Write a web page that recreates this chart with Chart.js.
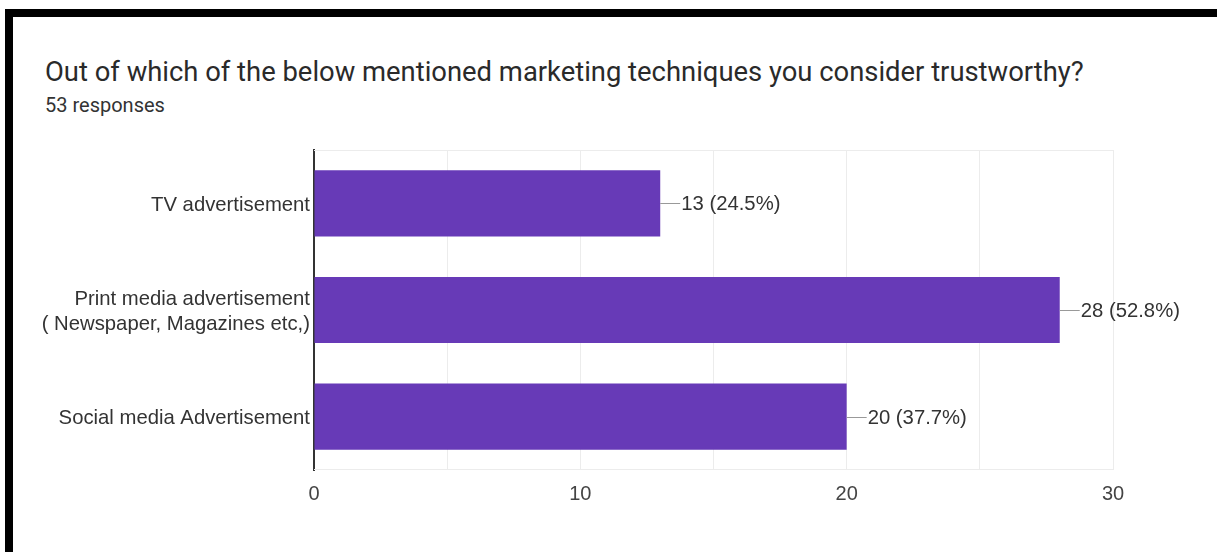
<!DOCTYPE html>
<html>
<head>
<meta charset="utf-8">
<script src="https://cdn.jsdelivr.net/npm/chart.js@4"></script>
<style>
  body { margin: 0; background: #fff; width: 1217px; height: 552px; overflow: hidden; position: relative; }
  .edge { position: absolute; background: #000; }
  #title { position: absolute; left: 45px; top: 59px; font: 27.4px Roboto, sans-serif; line-height: 27px; color: #2a2a2a; white-space: nowrap; }
  #sub { position: absolute; left: 45px; top: 95px; font: 20px Roboto, sans-serif; line-height: 20px; color: #333; white-space: nowrap; }
  #wrap { position: absolute; left: 0; top: 0; width: 1217px; height: 552px; }
</style>
</head>
<body>
<div class="edge" style="left:5px;top:9px;width:1212px;height:8px"></div>
<div class="edge" style="left:5px;top:9px;width:8px;height:543px"></div>
<div id="title">Out of which of the below mentioned marketing techniques you consider trustworthy?</div>
<div id="sub">53 responses</div>
<div id="wrap"><canvas id="chart"></canvas></div>
<script>
// survey answers
var categories = [
    'TV advertisement',
    ['Print media advertisement', '( Newspaper, Magazines etc,)'],
    'Social media Advertisement'
];
var counts = [13, 28, 20];
var percents = ['24.5%', '52.8%', '37.7%'];
var xTicks = [0, 10, 20, 30];

var labelFont = '20.3px "Liberation Sans", Arial, sans-serif';

// leader line + "n (p%)" next to each bar
var barLabels = {
    id: 'barLabels',
    afterDatasetsDraw: function (chart) {
        var ctx = chart.ctx;
        var meta = chart.getDatasetMeta(0);
        ctx.save();
        ctx.font = labelFont;
        ctx.textBaseline = 'middle';
        ctx.fillStyle = '#333';
        ctx.strokeStyle = '#999';
        ctx.lineWidth = 1;
        meta.data.forEach(function (bar, i) {
            var y = Math.round(bar.y) + 0.5;
            ctx.beginPath();
            ctx.moveTo(bar.x, y);
            ctx.lineTo(bar.x + 20, y);
            ctx.stroke();
            ctx.fillText(counts[i] + ' (' + percents[i] + ')', bar.x + 21, bar.y + 1.5);
        });
        ctx.restore();
    }
};

new Chart(document.getElementById('chart').getContext('2d'), {
    type: 'bar',
    data: {
        labels: categories,
        datasets: [{
            data: counts,
            backgroundColor: '#673ab7',
            barPercentage: 0.62,
            categoryPercentage: 1
        }]
    },
    options: {
        indexAxis: 'y',
        responsive: true,
        maintainAspectRatio: false,
        animation: false,
        layout: { padding: { top: 150, right: 104, left: 0, bottom: 0 } },
        plugins: { legend: { display: false }, tooltip: { enabled: false } },
        scales: {
            x: {
                min: 0,
                max: 30,
                ticks: {
                    stepSize: 5,
                    padding: 12,
                    color: '#444',
                    font: { family: '"Liberation Sans", Arial, sans-serif', size: 20 },
                    callback: function (v) { return xTicks.indexOf(v) >= 0 ? v : ''; }
                },
                grid: { color: '#ececec', drawTicks: false },
                border: { display: false },
                afterFit: function (s) { s.height = 82; }
            },
            y: {
                ticks: {
                    padding: 4,
                    labelOffset: 2,
                    color: '#333',
                    font: { family: '"Liberation Sans", Arial, sans-serif', size: 20.3, lineHeight: 1.2 }
                },
                grid: { display: false, drawTicks: false },
                border: { display: true, color: '#333', width: 2 },
                afterFit: function (s) { s.width = 314; }
            }
        }
    },
    plugins: [barLabels, {
        // light frame line along top and bottom of the plot
        id: 'frame',
        beforeDatasetsDraw: function (chart) {
            var a = chart.chartArea, ctx = chart.ctx;
            ctx.save();
            ctx.strokeStyle = '#ececec';
            ctx.lineWidth = 1;
            ctx.beginPath();
            ctx.moveTo(a.left, a.top + 0.5);
            ctx.lineTo(a.right, a.top + 0.5);
            ctx.moveTo(a.left, a.bottom - 0.5);
            ctx.lineTo(a.right, a.bottom - 0.5);
            ctx.stroke();
            ctx.restore();
        }
    }]
});
</script>
</body>
</html>
